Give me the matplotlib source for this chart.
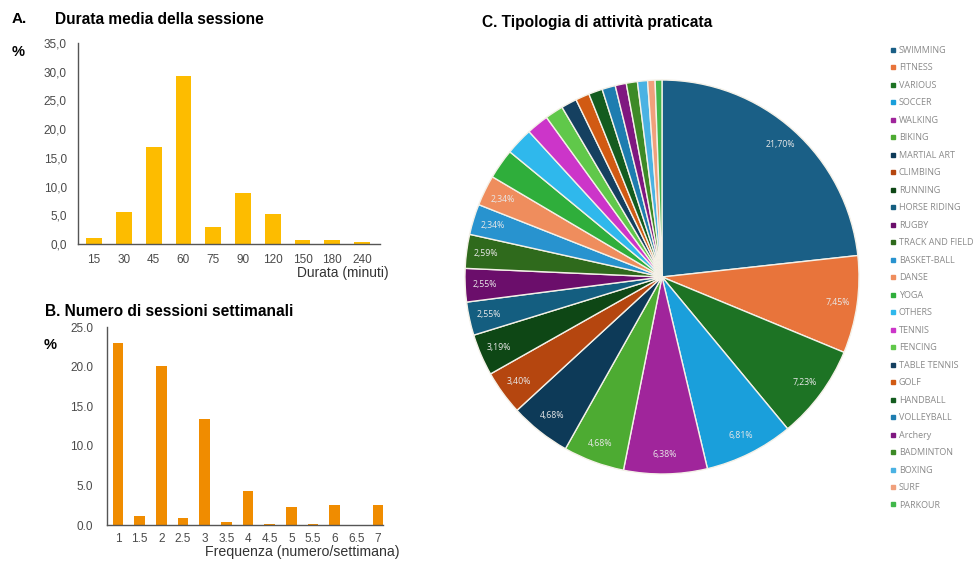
import numpy as np
import matplotlib.pyplot as plt
from matplotlib.lines import Line2D

plt.rcParams['font.family'] = ['Liberation Sans', 'DejaVu Sans']

# -----------------------------
# Data
# -----------------------------
# A. average session length
durata_labels = ["15", "30", "45", "60", "75", "90", "120", "150", "180", "240"]
durata_pct = [1.1, 5.6, 16.9, 29.3, 3.0, 8.9, 5.2, 0.7, 0.7, 0.4]

# B. sessions per week
freq_labels = ["1", "1.5", "2", "2.5", "3", "3.5", "4", "4.5", "5", "5.5", "6", "6.5", "7"]
freq_pct = [23.0, 1.1, 20.1, 0.9, 13.4, 0.35, 4.3, 0.15, 2.3, 0.12, 2.5, 0.0, 2.5]

# C. type of activity
activities = ["SWIMMING", "FITNESS", "VARIOUS", "SOCCER", "WALKING", "BIKING",
              "MARTIAL ART", "CLIMBING", "RUNNING", "HORSE RIDING", "RUGBY",
              "TRACK AND FIELD", "BASKET-BALL", "DANSE", "YOGA", "OTHERS",
              "TENNIS", "FENCING", "TABLE TENNIS", "GOLF", "HANDBALL",
              "VOLLEYBALL", "Archery", "BADMINTON", "BOXING", "SURF", "PARKOUR"]
activity_pct = [21.70, 7.45, 7.23, 6.81, 6.38, 4.68, 4.68, 3.40, 3.19, 2.55, 2.55,
                2.59, 2.34, 2.34, 2.30, 2.10, 1.70, 1.40, 1.20, 1.06, 1.06,
                1.02, 0.85, 0.85, 0.77, 0.57, 0.52]
slice_labels = ["21,70%", "7,45%", "7,23%", "6,81%", "6,38%", "4,68%", "4,68%",
                "3,40%", "3,19%", "2,55%", "2,55%", "2,59%", "2,34%", "2,34%"]
activity_colors = ["#1a5f86", "#e8743b", "#1d7324", "#1a9fdb", "#a0259b", "#4dab32",
                   "#0d3a58", "#b5460f", "#0e4715", "#145e80", "#6b0e6b", "#2f6a1c",
                   "#2893cf", "#ef8d5d", "#2fae3b", "#2fb8ec", "#cc35c9", "#60c84a",
                   "#154060", "#d15a13", "#145c1f", "#1e7db0", "#7f1780", "#3d8a26",
                   "#4ab2e3", "#f0a07c", "#41b74a"]

W, H = 978, 563
fig = plt.figure(figsize=(W / 100, H / 100), dpi=100)


def px(x0, y0, x1, y1):
    """pixel box (left, top, right, bottom) -> figure fraction rect"""
    return [x0 / W, 1 - y1 / H, (x1 - x0) / W, (y1 - y0) / H]


def style_bar_axes(ax):
    for s in ["top", "right"]:
        ax.spines[s].set_visible(False)
    for s in ["left", "bottom"]:
        ax.spines[s].set_color("#555555")
        ax.spines[s].set_linewidth(1.0)
    ax.tick_params(length=0, labelsize=8.5, colors="#4a4a4a")


# -----------------------------
# A. Durata media della sessione
# -----------------------------
axA = fig.add_axes(px(78, 43, 380, 244))
xA = np.arange(len(durata_labels))
axA.bar(xA, durata_pct, width=0.53, color="#fdbc00")
axA.set_xlim(-0.54, 9.6)
axA.set_ylim(0, 35)
axA.set_yticks(np.arange(0, 36, 5))
axA.set_yticklabels([f"{v:.1f}".replace(".", ",") for v in np.arange(0, 36, 5)])
axA.set_xticks(xA)
axA.set_xticklabels(durata_labels)
style_bar_axes(axA)
axA.tick_params(axis="y", pad=8)
axA.tick_params(axis="x", pad=7)

fig.text(12 / W, 1 - 19 / H, "A.", fontsize=11, fontweight="bold", va="center")
fig.text(55 / W, 1 - 19 / H, "Durata media della sessione", fontsize=11.2,
         fontweight="bold", va="center")
fig.text(12 / W, 1 - 52 / H, "%", fontsize=10.5, fontweight="bold", va="center")
fig.text(389 / W, 1 - 273 / H, "Durata (minuti)", fontsize=9.9, color="#333333",
         ha="right", va="center")

# -----------------------------
# B. Numero di sessioni settimanali
# -----------------------------
axB = fig.add_axes(px(107, 327, 383, 525))
xB = np.arange(len(freq_labels))
axB.bar(xB, freq_pct, width=0.49, color="#f08c00")
axB.set_xlim(-0.51, 12.23)
axB.set_ylim(0, 25)
axB.set_yticks(np.arange(0, 26, 5))
axB.set_yticklabels([f"{v:.1f}" for v in np.arange(0, 26, 5)])
axB.set_xticks(xB)
axB.set_xticklabels(freq_labels)
style_bar_axes(axB)
axB.tick_params(axis="y", pad=10)
axB.tick_params(axis="x", pad=6)

fig.text(45 / W, 1 - 311 / H, "B. Numero di sessioni settimanali", fontsize=11.2,
         fontweight="bold", va="center")
fig.text(44 / W, 1 - 345 / H, "%", fontsize=10.5, fontweight="bold", va="center")
fig.text(400 / W, 1 - 552 / H, "Frequenza (numero/settimana)", fontsize=10.2,
         color="#333333", ha="right", va="center")

# -----------------------------
# C. Tipologia di attività praticata
# -----------------------------
axC = fig.add_axes(px(662 - 197, 277 - 197, 662 + 197, 277 + 197))
wedges, _ = axC.pie(activity_pct, colors=activity_colors, startangle=90,
                    counterclock=False, radius=1.0,
                    wedgeprops=dict(edgecolor="#f4f1e8", linewidth=1.0))
axC.set_xlim(-1, 1)
axC.set_ylim(-1, 1)
axC.axis("off")

for w, lab in zip(wedges, slice_labels):
    ang = np.deg2rad((w.theta1 + w.theta2) / 2)
    axC.text(0.9 * np.cos(ang), 0.9 * np.sin(ang), lab, fontsize=6.3,
             color="#e8e8e8", ha="center", va="center", family="Open Sans")

fig.text(482 / W, 1 - 22 / H, "C. Tipologia di attività praticata", fontsize=11.2,
         fontweight="bold", va="center")

handles = [Line2D([0], [0], marker="s", linestyle="none", markersize=2.5,
                  markerfacecolor=c, markeredgecolor=c) for c in activity_colors]
fig.legend(handles, activities, loc="upper left",
           bbox_to_anchor=(891 / W, 1 - 46 / H), frameon=False,
           prop=dict(family="Open Sans", size=6.5), labelcolor="#8a8a8a",
           handlelength=0.5, handletextpad=0.35, labelspacing=0.94,
           borderaxespad=0, borderpad=0)

fig.savefig("out.png", dpi=100)
